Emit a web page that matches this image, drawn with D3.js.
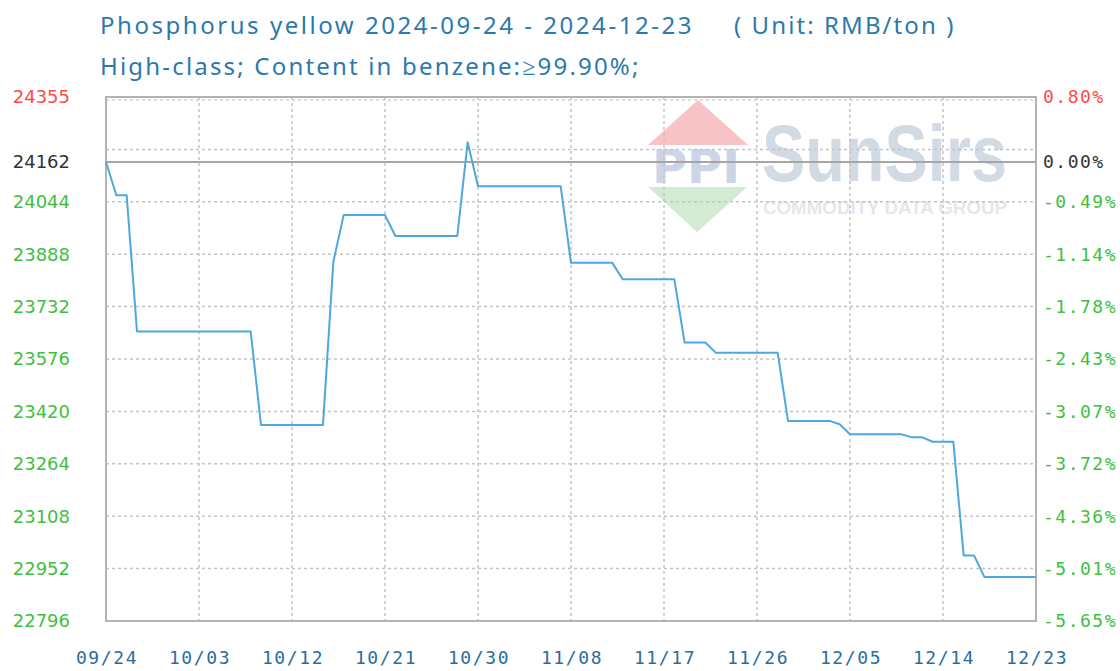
<!DOCTYPE html>
<html>
<head>
<meta charset="utf-8">
<script src="https://cdn.jsdelivr.net/npm/d3@7"></script>
<style>
  body { margin: 0; background: #fff; }
  svg { display: block; }
</style>
</head>
<body>
<svg id="chart" width="1120" height="671"></svg>
<script>
// daily prices, 2024-09-24 .. 2024-12-23 (RMB/ton)
const startDate = "2024-09-24";
const endDate = "2024-12-23";
const basePrice = 24162;
const prices = [
  24162, 24063, 24063, 23658, 23658, 23658, 23658, 23658, 23658, 23658,
  23658, 23658, 23658, 23658, 23658, 23380, 23380, 23380, 23380, 23380,
  23380, 23380, 23865, 24004, 24004, 24004, 24004, 24004, 23942, 23942,
  23942, 23942, 23942, 23942, 23942, 24221, 24090, 24090, 24090, 24090,
  24090, 24090, 24090, 24090, 24090, 23862, 23862, 23862, 23862, 23862,
  23813, 23813, 23813, 23813, 23813, 23813, 23625, 23625, 23625, 23595,
  23595, 23595, 23595, 23595, 23595, 23595, 23392, 23392, 23392, 23392,
  23392, 23382, 23352, 23352, 23352, 23352, 23352, 23352, 23343, 23343,
  23330, 23330, 23330, 22992, 22992, 22928, 22928, 22928, 22928, 22928,
  22928
];

// axis ticks (percent change vs. base price), 0.155 is a grid line without label
const pctTicks = [-5.65, -5.005, -4.36, -3.715, -3.07, -2.425, -1.78, -1.135, -0.49, 0.155, 0.80];
const priceLabels = ["22796", "22952", "23108", "23264", "23420", "23576", "23732", "23888", "24044", "", "24355"];
const pctLabels = ["-5.65%", "-5.01%", "-4.36%", "-3.72%", "-3.07%", "-2.43%", "-1.78%", "-1.14%", "-0.49%", "", "0.80%"];
const xTickLabels = ["09/24", "10/03", "10/12", "10/21", "10/30", "11/08", "11/17", "11/26", "12/05", "12/14", "12/23"];

const title1 = "Phosphorus yellow 2024-09-24 - 2024-12-23";
const title2 = "High-class; Content in benzene:\u226599.90%;";
const unitText = "( Unit: RMB/ton )";

var svg = d3.select("#chart");
const plotLeft = 106, plotRight = 1036, plotTop = 97, plotBottom = 621;

const parse = d3.timeParse("%Y-%m-%d");
const t0 = parse(startDate), t1 = parse(endDate);
const data = prices.map((p, i) => ({ date: d3.timeDay.offset(t0, i), price: p }));

var x = d3.scaleTime().domain([t0, t1]).range([plotLeft, plotRight]);
var y = d3.scaleLinear().domain([pctTicks[0], pctTicks[pctTicks.length - 1]]).range([plotBottom, plotTop]);
const toPct = (p) => (p / basePrice - 1) * 100;

const xTicks = xTickLabels.map((d, i) => d3.timeDay.offset(t0, i * 9));
const labelled = pctTicks
  .map((v, i) => ({ v: v, price: priceLabels[i], pct: pctLabels[i] }))
  .filter((d) => d.price !== "");

// titles
const titleStyle = (sel) =>
  sel
    .attr("fill", "#2b79ad")
    .style("font-family", "Noto Sans")
    .style("font-size", "24px")
    .style("letter-spacing", "1.6px");
svg.append("text").attr("x", 100).attr("y", 34)
  .attr("textLength", 593).attr("lengthAdjust", "spacing")
  .call(titleStyle).text(title1);
svg.append("text").attr("x", 734).attr("y", 34)
  .attr("textLength", 221).attr("lengthAdjust", "spacing")
  .call(titleStyle).text(unitText);
svg.append("text").attr("x", 100).attr("y", 75)
  .attr("textLength", 540).attr("lengthAdjust", "spacing")
  .call(titleStyle).text(title2);

// watermark
var wm = svg.append("g").attr("class", "watermark");
wm.append("path")
  .attr("d", "M698,100 L748,145 L648,145 Z")
  .attr("fill", "#f7c3c7");
wm.append("path")
  .attr("d", "M648,187 L747,187 L697,232 Z")
  .attr("fill", "#d3ebd3");
wm.append("text")
  .attr("x", 652).attr("y", 183)
  .attr("textLength", 88).attr("lengthAdjust", "spacingAndGlyphs")
  .attr("fill", "#ccd5e6")
  .style("font-family", "DejaVu Sans")
  .style("font-weight", "bold")
  .style("font-size", "46px")
  .text("PPI");
wm.append("text")
  .attr("transform", "translate(762,181) scale(1,1.25)")
  .attr("textLength", 245).attr("lengthAdjust", "spacingAndGlyphs")
  .attr("fill", "#d2dbe3")
  .style("font-family", "Liberation Sans")
  .style("font-weight", "bold")
  .style("font-size", "64px")
  .text("SunSirs");
wm.append("text")
  .attr("x", 763).attr("y", 214)
  .attr("textLength", 244).attr("lengthAdjust", "spacingAndGlyphs")
  .attr("fill", "#e2e8ed")
  .style("font-family", "Liberation Sans")
  .style("font-weight", "bold")
  .style("font-size", "18px")
  .text("COMMODITY DATA GROUP");

// grid
var grid = svg.append("g").attr("class", "grid");
grid.selectAll("line.h")
  .data(pctTicks.slice(1, -1))
  .enter()
  .append("line")
  .attr("class", "h")
  .attr("x1", plotLeft).attr("x2", plotRight)
  .attr("y1", (d) => y(d)).attr("y2", (d) => y(d))
  .style("stroke", "#c4c4c4")
  .style("stroke-width", "1.5px")
  .style("stroke-dasharray", "3,3");
grid.append("line")
  .attr("x1", plotLeft).attr("x2", plotRight)
  .attr("y1", plotTop + 3).attr("y2", plotTop + 3)
  .style("stroke", "#d2d2d2")
  .style("stroke-width", "1.5px")
  .style("stroke-dasharray", "3,3");
grid.selectAll("line.v")
  .data(xTicks.slice(1, -1))
  .enter()
  .append("line")
  .attr("class", "v")
  .attr("x1", (d) => x(d)).attr("x2", (d) => x(d))
  .attr("y1", plotTop).attr("y2", plotBottom)
  .style("stroke", "#c4c4c4")
  .style("stroke-width", "1.5px")
  .style("stroke-dasharray", "3,3");

// base line (0.00%)
svg.append("line")
  .attr("x1", plotLeft).attr("x2", plotRight)
  .attr("y1", y(0)).attr("y2", y(0))
  .style("stroke", "#a6a6a6")
  .style("stroke-width", "2px");

// frame
svg.append("rect")
  .attr("x", plotLeft).attr("y", plotTop)
  .attr("width", plotRight - plotLeft).attr("height", plotBottom - plotTop)
  .attr("fill", "none")
  .style("stroke", "#b3b3b3")
  .style("stroke-width", "2px");

// price line
var line = d3.line()
  .x((d) => x(d.date))
  .y((d) => y(toPct(d.price)));
svg.append("path")
  .datum(data)
  .attr("d", line)
  .attr("fill", "none")
  .style("stroke", "#4ea7de")
  .style("stroke-width", "2px")
  .style("stroke-linejoin", "round");

// left labels
const labelColor = (d) => (d.v > 0 ? "#ff4a4a" : "#3fbf3f");
var leftAxis = svg.append("g").attr("class", "left-labels");
leftAxis.selectAll("text")
  .data(labelled)
  .enter()
  .append("text")
  .attr("x", 70)
  .attr("y", (d) => y(d.v))
  .attr("dy", "0.36em")
  .attr("text-anchor", "end")
  .attr("fill", labelColor)
  .style("font-family", "DejaVu Sans")
  .style("font-size", "18px")
  .text((d) => d.price);
leftAxis.append("text")
  .attr("x", 70)
  .attr("y", y(0))
  .attr("dy", "0.36em")
  .attr("text-anchor", "end")
  .attr("fill", "#333")
  .style("font-family", "DejaVu Sans")
  .style("font-size", "18px")
  .text(basePrice);

// right labels
var rightAxis = svg.append("g").attr("class", "right-labels");
rightAxis.selectAll("text")
  .data(labelled)
  .enter()
  .append("text")
  .attr("x", 1043)
  .attr("y", (d) => y(d.v))
  .attr("dy", "0.36em")
  .attr("fill", labelColor)
  .style("font-family", "DejaVu Sans Mono")
  .style("font-size", "18px")
  .style("letter-spacing", "1.5px")
  .text((d) => d.pct);
rightAxis.append("text")
  .attr("x", 1043)
  .attr("y", y(0))
  .attr("dy", "0.36em")
  .attr("fill", "#333")
  .style("font-family", "DejaVu Sans Mono")
  .style("font-size", "18px")
  .style("letter-spacing", "1.5px")
  .text("0.00%");

// x labels
svg.append("g")
  .attr("class", "x-labels")
  .selectAll("text")
  .data(xTicks)
  .enter()
  .append("text")
  .attr("x", (d) => x(d) + 1)
  .attr("y", 664)
  .attr("text-anchor", "middle")
  .attr("fill", "#2a6d9c")
  .style("font-family", "DejaVu Sans Mono")
  .style("font-size", "18px")
  .style("letter-spacing", "1.6px")
  .text((d, i) => xTickLabels[i]);
</script>
</body>
</html>
